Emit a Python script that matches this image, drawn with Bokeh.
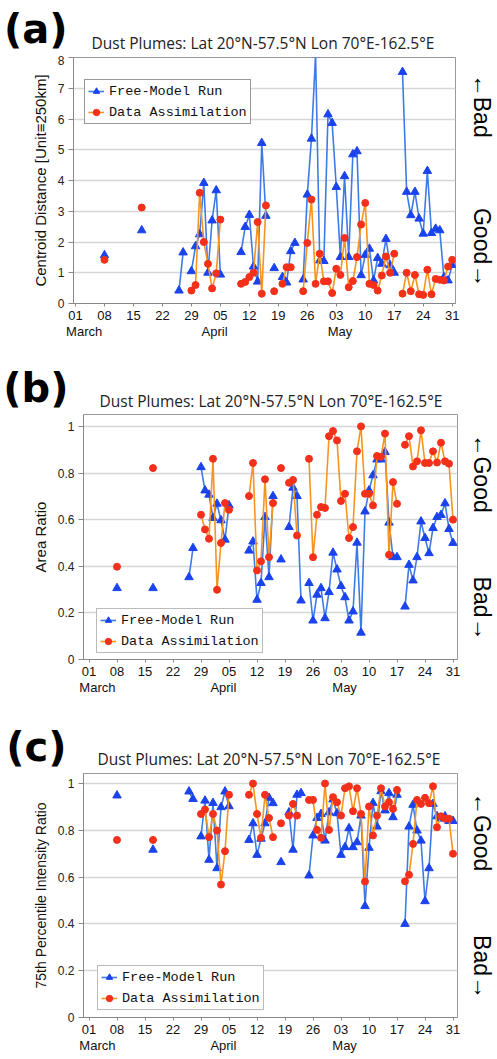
import numpy as np
from bokeh.plotting import figure
from bokeh.models import (Range1d, FixedTicker, Label, Legend, LegendItem,
                          ColumnDataSource, LinearAxis)
from bokeh.layouts import column, row
from bokeh.embed import file_html
from bokeh.resources import INLINE

N = None

# ---------------- data ----------------
# day index: 0 = 01 March, 31 = 01 April, 61 = 01 May, 91 = 31 May
days = list(range(92))
tick_days = [0, 7, 14, 21, 28, 35, 42, 49, 56, 63, 70, 77, 84, 91]
tick_labels = ["01", "08", "15", "22", "29", "05", "12", "19", "26", "03", "10", "17", "24", "31"]
month_names = ["March", "April", "May"]
month_ticks = [2.1, 33.6, 63.9]
series_names = ["Free-Model Run", "Data Assimilation"]

# (a) Centroid distance
centroid_free = [
    N, N, N, N, N, N, N,
    1.57, N, N, N, N, N, N,
    N, N, 2.38, N, N, N, N,
    N, N, N, N, 0.42, 1.66, N,
    1.05, 1.86, 2.25, 3.92, 1.0, 2.7, 3.68,
    0.94, N, N, N, N, 1.67, 2.49,
    2.88, 1.2, 0.71, 5.22, 2.85, N, 1.15,
    N, 0.86, 0.68, 1.7, 1.97, N, 0.78,
    3.54, 5.36, 8.1, 1.4, 1.38, 6.15, 5.87,
    3.79, 1.51, 4.14, 1.51, 4.85, 4.95, 0.92,
    1.58, 1.78, 0.75, 1.48, 1.29, 2.1, 1.24,
    1.0, N, 7.53, 3.63, 2.87, 3.63, 2.76,
    2.27, 4.31, 2.29, 2.43, 2.38, 0.85, 0.75,
    1.25]
centroid_assim = [
    N, N, N, N, N, N, N,
    1.42, N, N, N, N, N, N,
    N, N, 3.12, N, N, N, N,
    N, N, N, N, N, N, N,
    0.42, 0.6, 3.6, 2.0, 1.29, 0.49, 0.98,
    2.73, N, N, N, N, 0.64, 0.7,
    0.86, 1.0, 2.65, 0.32, 3.19, N, 0.4,
    N, 0.64, 1.18, 1.18, N, N, 0.4,
    1.97, 3.38, 0.64, 1.62, 0.72, 0.72, 0.34,
    1.13, 0.93, 2.13, 0.53, 0.73, 1.51, 2.57,
    3.27, 0.64, 0.6, 0.42, 0.91, 1.53, 1.0,
    1.62, N, 0.32, 1.0, 0.4, 0.93, 0.3,
    0.28, 1.1, 0.3, 0.8, 0.77, 0.75, 1.2,
    1.42]

# (b) Area ratio
area_free = [
    N, N, N, N, N, N, N,
    0.306, N, N, N, N, N, N,
    N, N, 0.306, N, N, N, N,
    N, N, N, N, 0.353, 0.478, N,
    0.825, 0.725, 0.707, 0.607, 0.668, 0.597, 0.514,
    0.661, N, N, N, N, 0.467, 0.506,
    0.256, 0.328, 0.611, 0.353, 0.701, N, 0.429,
    N, 0.568, 0.737, 0.701, 0.253, N, 0.328,
    0.167, 0.278, 0.306, 0.177, 0.289, 0.458, 0.386,
    0.315, 0.267, 0.167, 0.206, 0.501, 0.115, 0.635,
    0.725, 0.79, 0.858, 0.858, 0.89, 0.587, 0.439,
    0.439, N, 0.227, 0.406, 0.339, 0.439, 0.592,
    0.521, 0.456, 0.564, 0.611, 0.62, 0.67, 0.56,
    0.5]
area_assim = [
    N, N, N, N, N, N, N,
    0.398, N, N, N, N, N, N,
    N, N, 0.821, N, N, N, N,
    N, N, N, N, N, N, N,
    0.621, 0.558, 0.518, 0.861, 0.299, 0.5, 0.671,
    0.642, N, N, N, N, 0.701, 0.843,
    0.382, 0.421, 0.773, 0.439, 0.671, N, 0.821,
    N, 0.758, 0.77, 0.532, N, N, 0.861,
    0.439, 0.621, 0.654, 0.65, 0.958, 0.98, 0.94,
    0.68, 0.711, 0.521, 0.568, 0.893, 1.0, 0.711,
    0.711, 0.661, 0.873, 0.87, 0.969, 0.449, 0.761,
    0.668, N, 0.921, 0.958, 0.828, 0.85, 0.983,
    0.843, 0.843, 0.893, 0.845, 0.93, 0.85, 0.84,
    0.6]

# (c) 75th percentile intensity ratio
intensity_free = [
    N, N, N, N, N, N, N,
    0.949, N, N, N, N, N, N,
    N, N, 0.717, N, N, N, N,
    N, N, N, N, 0.966, 0.934, N,
    0.774, 0.927, 0.674, 0.917, 0.638, 0.899, 0.966,
    0.903, N, N, N, N, 0.759, 0.83,
    0.695, 0.764, 0.83, 0.939, 0.916, N, 0.664,
    N, 0.877, 0.717, 0.952, 0.959, N, 0.607,
    0.778, 0.853, 0.87, 0.756, 0.877, 0.932, 0.873,
    0.695, 0.728, 0.809, 0.728, 0.749, 0.863, 0.476,
    0.725, 0.917, 0.816, 0.967, 0.885, 0.959, 0.856,
    0.952, N, 0.4, 0.816, 0.909, 0.799, 0.756,
    0.497, 0.638, 0.913, 0.86, 0.85, 0.86, 0.84,
    0.84]
intensity_assim = [
    N, N, N, N, N, N, N,
    0.759, N, N, N, N, N, N,
    N, N, 0.759, N, N, N, N,
    N, N, N, N, N, N, N,
    0.87, 0.889, 0.771, 0.87, 0.799, 0.568, 0.711,
    0.952, N, N, N, N, 0.952, 1.0,
    0.87, 0.768, 0.952, 0.853, 0.771, N, 0.83,
    N, 0.863, 0.913, 0.863, N, N, 0.93,
    0.93, 0.802, 0.768, 1.0, 0.802, 0.942, 0.92,
    0.863, 0.98, 0.988, 0.882, 0.98, 0.87, 0.581,
    0.902, 0.778, 0.863, 0.98, 0.902, 0.92, 0.892,
    0.973, N, 0.582, 0.61, 0.742, 0.93, 0.913,
    0.939, 0.916, 0.988, 0.813, 0.86, 0.85, 0.85,
    0.7]

ratio_ticks = [0, 0.2, 0.4, 0.6, 0.8, 1]
ratio_labels = ["0", "0.2", "0.4", "0.6", "0.8", "1"]
dist_ticks = [0, 1, 2, 3, 4, 5, 6, 7, 8]
dist_labels = ["0", "1", "2", "3", "4", "5", "6", "7", "8"]

TITLE = "Dust Plumes: Lat 20\u00b0N-57.5\u00b0N Lon 70\u00b0E-162.5\u00b0E"
NB = "\u00a0"

BLUE_LINE = "#3f7be6"
BLUE_MARK = "#1a43ee"
ORANGE_LINE = "#f7941d"
RED_MARK = "#f4301a"
SANS = "Liberation Sans"


def arr(v):
    return np.array([np.nan if x is None else x for x in v], dtype=float)


def make_header(height, letter, letter_y, letter_standoff, title_left, title_y, L):
    h = figure(frame_width=L["fw"], frame_height=height,
               x_range=Range1d(0, L["fw"]), y_range=Range1d(height, 0),
               x_axis_type=None,
               min_border_left=L["bl"], min_border_right=L["br"],
               min_border_top=0, min_border_bottom=0,
               output_backend="svg", toolbar_location=None)
    h.outline_line_color = None
    h.ygrid.visible = False
    h.yaxis.ticker = FixedTicker(ticks=[letter_y])
    h.yaxis.major_label_overrides = {letter_y: letter}
    h.yaxis.axis_line_color = None
    h.yaxis.major_tick_line_color = None
    h.yaxis.minor_tick_line_color = None
    h.yaxis.major_label_standoff = letter_standoff
    h.yaxis.major_label_text_font = "DejaVu Sans"
    h.yaxis.major_label_text_font_style = "bold"
    h.yaxis.major_label_text_font_size = "40px"
    h.yaxis.major_label_text_color = "black"
    h.add_layout(Label(x=title_left - L["bl"], y=title_y, text=TITLE,
                       text_font="Open Sans", text_font_size="15.5px",
                       text_color="#222222", text_align="left", text_baseline="middle"))
    return h


def make_panel(free, assim, y_end, yticks, ylabels, ylabel, ylabel_size, side_text, L):
    p = figure(frame_width=L["fw"], frame_height=L["fh"],
               x_range=Range1d(L["xs"], L["xe"]), y_range=Range1d(0, y_end),
               min_border_left=L["bl"], min_border_right=L["br"],
               min_border_top=L["bt"], min_border_bottom=L["bb"],
               output_backend="svg", toolbar_location=None,
               background_fill_color="white", border_fill_color="white")
    p.outline_line_color = "#9a9a9a"
    p.outline_line_width = 1
    p.xgrid.visible = False
    p.ygrid.grid_line_color = "#d6d6d6"
    p.ygrid.grid_line_width = 1.5

    # y axis
    p.yaxis.ticker = FixedTicker(ticks=yticks)
    p.yaxis.major_label_overrides = dict(zip(yticks, ylabels))
    p.yaxis.minor_tick_line_color = None
    p.yaxis.major_tick_in = 0
    p.yaxis.major_tick_out = 5
    p.yaxis.major_tick_line_color = "#888888"
    p.yaxis.axis_line_color = "#888888"
    p.yaxis.major_label_text_font = SANS
    p.yaxis.major_label_text_font_size = "12px"
    p.yaxis.major_label_text_color = "#222222"
    p.yaxis.major_label_standoff = 4
    p.yaxis.axis_label = ylabel
    p.yaxis.axis_label_text_font = SANS
    p.yaxis.axis_label_text_font_style = "normal"
    p.yaxis.axis_label_text_font_size = ylabel_size
    p.yaxis.axis_label_text_color = "#111111"
    p.yaxis.axis_label_standoff = 6

    # x axis (days)
    p.xaxis.ticker = FixedTicker(ticks=tick_days)
    p.xaxis.major_label_overrides = dict(zip(tick_days, tick_labels))
    p.xaxis.minor_tick_line_color = None
    p.xaxis.major_tick_in = 0
    p.xaxis.major_tick_out = 3
    p.xaxis.major_tick_line_color = "#888888"
    p.xaxis.axis_line_color = "#888888"
    p.xaxis.major_label_text_font = SANS
    p.xaxis.major_label_text_font_size = "13px"
    p.xaxis.major_label_text_color = "#111111"
    p.xaxis.major_label_standoff = 4

    # second x axis: month names
    month_axis = LinearAxis(ticker=FixedTicker(ticks=month_ticks),
                            major_label_overrides=dict(zip(month_ticks, month_names)),
                            axis_line_color=None, major_tick_line_color=None,
                            minor_tick_line_color=None, major_tick_out=0, major_tick_in=0,
                            major_label_standoff=1,
                            major_label_text_font=SANS, major_label_text_font_size="13px",
                            major_label_text_color="#111111")
    p.add_layout(month_axis, "below")

    # right side: quality hints
    side_axis = LinearAxis(ticker=FixedTicker(ticks=[]), axis_line_color=None,
                           major_tick_line_color=None, minor_tick_line_color=None,
                           major_tick_out=0, major_tick_in=0,
                           major_label_text_font_size="0px",
                           axis_label=side_text, axis_label_standoff=L["ss"],
                           axis_label_text_font=SANS, axis_label_text_font_style="normal",
                           axis_label_text_font_size="23px", axis_label_text_color="black")
    p.add_layout(side_axis, "right")

    src_f = ColumnDataSource(dict(x=days, y=arr(free)))
    src_a = ColumnDataSource(dict(x=days, y=arr(assim)))
    l1 = p.line("x", "y", source=src_f, line_color=BLUE_LINE, line_width=1.6)
    s1 = p.scatter("x", "y", source=src_f, marker="triangle", size=8.5,
                   fill_color=BLUE_MARK, line_color=BLUE_MARK)
    l2 = p.line("x", "y", source=src_a, line_color=ORANGE_LINE, line_width=1.6)
    s2 = p.scatter("x", "y", source=src_a, marker="circle", size=7,
                   fill_color=RED_MARK, line_color=RED_MARK)

    legend = Legend(items=[LegendItem(label=series_names[0], renderers=[l1, s1]),
                           LegendItem(label=series_names[1], renderers=[l2, s2])],
                    location=L["leg"], orientation="vertical")
    legend.label_text_font = "Liberation Mono"
    legend.label_text_font_size = "13.5px"
    legend.label_text_color = "#111111"
    legend.border_line_color = L["legc"]
    legend.border_line_width = 1.3
    legend.background_fill_color = "white"
    legend.background_fill_alpha = 1
    legend.padding = 3
    legend.spacing = 5
    legend.margin = 0
    legend.glyph_width = 16
    legend.glyph_height = 16
    legend.label_height = 16
    legend.label_standoff = 5
    p.add_layout(legend)
    return p


LA = dict(fw=382, fh=246, xs=-0.48, xe=91.8, bl=73, br=42, bt=2, bb=52, ss=13,
          leg=(11, 179), legc="#333333")
LB = dict(fw=374, fh=245, xs=-1.375, xe=92.125, bl=83, br=40, bt=2, bb=55, ss=11,
          leg=(13, 6), legc="#777777")
LC = dict(fw=374, fh=244, xs=-1.375, xe=92.125, bl=83, br=40, bt=2, bb=42, ss=11,
          leg=(14, 7), legc="#777777")

ha = make_header(55, "(a)", 28, 1, 90, 42, LA)
pa = make_panel(centroid_free, centroid_assim, 8, dist_ticks, dist_labels,
                "Centroid Distance [Unit\u2261250km]", "15px",
                "\u2190Bad" + NB * 11 + "Good\u2192", LA)
hb = make_header(57, "(b)", 36, 11, 97, 45, LB)
pb = make_panel(area_free, area_assim, 1.051, ratio_ticks, ratio_labels,
                "Area Ratio", "15px", "\u2190Good" + NB * 10 + "Bad\u2192", LB)
hc = make_header(57, "(c)", 36, 11, 97, 44, LC)
pc = make_panel(intensity_free, intensity_assim, 1.043, ratio_ticks, ratio_labels,
                "75th Percentile Intensity Ratio", "14px",
                "\u2190Good" + NB * 10 + "Bad\u2192", LC)

layout = column(row(ha), row(pa), row(hb), row(pb), row(hc), row(pc), spacing=0)
open("out.html", "w").write(file_html(layout, INLINE))
